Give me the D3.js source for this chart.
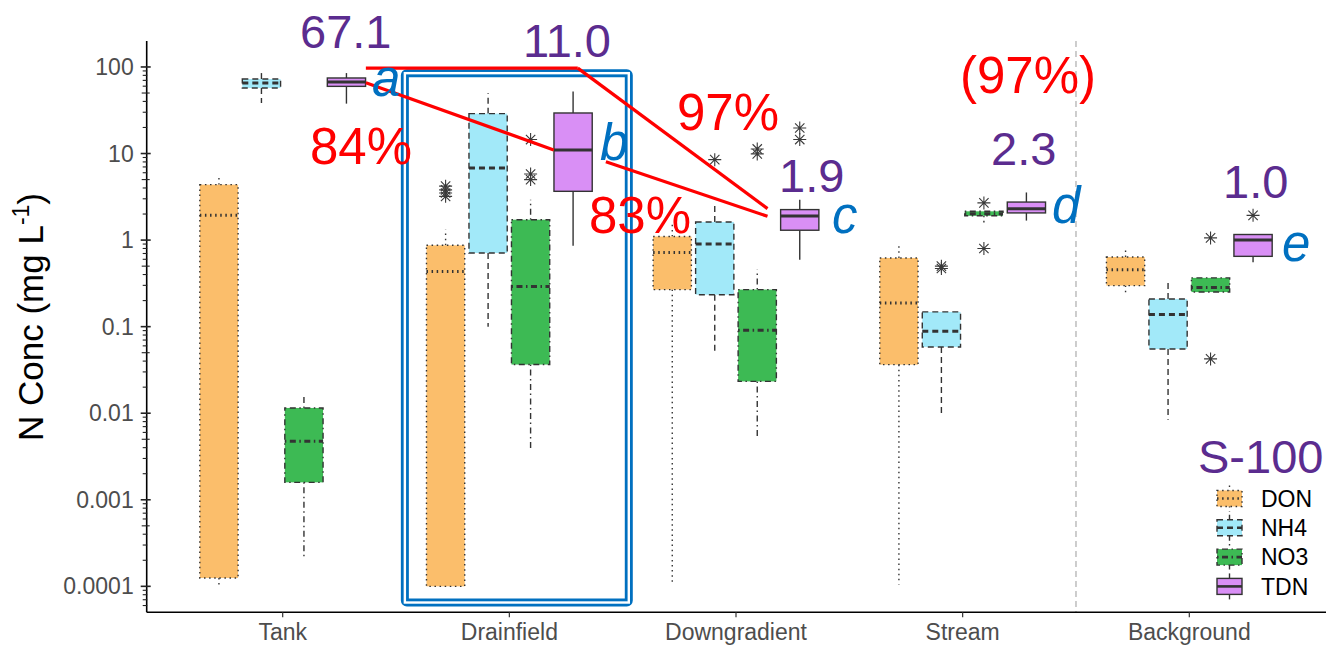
<!DOCTYPE html>
<html>
<head>
<meta charset="utf-8">
<script src="https://cdn.jsdelivr.net/npm/d3@7"></script>
<style>
  html, body { margin: 0; padding: 0; background: #fff; }
  svg { display: block; font-family: "Liberation Sans", Arial, sans-serif; }
</style>
</head>
<body>
<svg id="chart" width="1326" height="649"></svg>
<script>
// ---- data -------------------------------------------------------------
const categories = ["Tank", "Drainfield", "Downgradient", "Stream", "Background"];
const seriesNames = ["DON", "NH4", "NO3", "TDN"];

// box summaries per site: [lower whisker, Q1, median, Q3, upper whisker] (mg/L)
const donStats = [
  [1.02e-4, 1.25e-4, 1.93, 4.37, 5.4],
  [1.0e-4, 1.0e-4, 0.435, 0.87, 1.32],
  [1.1e-4, 0.268, 0.72, 1.1, 1.6],
  [1.05e-4, 0.0364, 0.188, 0.622, 0.927],
  [0.24, 0.298, 0.455, 0.638, 0.796]
];
const nh4Stats = [
  [38.4, 57.2, 65.3, 72.6, 85],
  [0.1, 0.71, 6.8, 28.9, 50],
  [0.0475, 0.234, 0.90, 1.62, 2.56],
  [0.0092, 0.0583, 0.0883, 0.148, 0.148],
  [0.0084, 0.0552, 0.138, 0.209, 0.349]
];
const no3Stats = [
  [0.000213, 0.00159, 0.00473, 0.0115, 0.0167],
  [0.0038, 0.0365, 0.29, 1.72, 2.93],
  [0.00508, 0.0233, 0.0906, 0.268, 0.455],
  [1.6, 1.91, 2.02, 2.15, 2.15],
  [0.251, 0.251, 0.284, 0.366, 0.366]
];
const tdnStats = [
  [37.7, 59.7, 67.1, 74.6, 85],
  [0.86, 3.66, 11.0, 29.4, 52],
  [0.594, 1.3, 1.9, 2.25, 2.93],
  [1.68, 2.06, 2.3, 2.75, 3.55],
  [0.553, 0.649, 1.0, 1.16, 1.16]
];

// outlying samples per site
const donOutliers = [[], [4.2, 3.8, 3.5, 3.2], [], [], []];
const nh4Outliers = [[], [], [8.5], [0.5, 0.47], []];
const no3Outliers = [[], [14.5, 5.8, 5.0], [11.3, 9.9], [2.69, 0.8], [1.06, 0.0424]];
const tdnOutliers = [[], [], [19.7, 14.5], [], [1.93]];

// median TDN labels and site letters
const tdnMedianLabels = ["67.1", "11.0", "1.9", "2.3", "1.0"];
const siteLetters = ["a", "b", "c", "d", "e"];

// y axis ticks
const yTicks = [0.0001, 0.001, 0.01, 0.1, 1, 10, 100];
const yTickLabels = ["0.0001", "0.001", "0.01", "0.1", "1", "10", "100"];

// ---- styling ----------------------------------------------------------
const fills = ["#FBBE6B", "#A2E9F9", "#3DBA54", "#D98FF5"];
const dashes = ["1.5,3.6", "6,4", "1.5,3.5,6,3.5", null];
const outline = "#333333";
const purple = "#5B2C8F";
const red = "#FF0000";
const blue = "#0070C0";

const allStats = [donStats, nh4Stats, no3Stats, tdnStats];
const allOutliers = [donOutliers, nh4Outliers, no3Outliers, tdnOutliers];

const svg = d3.select("#chart");

// panel geometry
const panelLeft = 146.7, panelRight = 1325.3, panelTop = 41, panelBottom = 612.3;

// categories sit at 1..5, with 0.6 units of padding either side
const x = d3.scaleLinear().domain([0.4, categories.length + 0.6]).range([panelLeft, panelRight]);
const y = d3.scaleLog().domain([Math.pow(10, -4.3), Math.pow(10, 2.3)]).range([panelBottom, panelTop]);

const unit = x(2) - x(1);
const dodge = 0.75 / seriesNames.length;       // slot width per series
const boxW = dodge * 0.9 * unit;               // box width in px
const seriesX = (ci, si) => x(ci + 1 + (si - 1.5) * dodge);

// ---- separator between in-system sites and background -----------------
svg.append("line")
  .attr("x1", x(4.5)).attr("x2", x(4.5))
  .attr("y1", panelTop).attr("y2", panelBottom)
  .attr("stroke", "#BDBDBD").attr("stroke-width", 1.5)
  .attr("stroke-dasharray", "6,4");

// ---- boxes -------------------------------------------------------------
const boxesG = svg.append("g");
seriesNames.forEach((name, si) => {
  const g = boxesG.append("g").attr("class", "series-" + name);
  allStats[si].forEach((s, ci) => {
    const cx = seriesX(ci, si);
    const [lo, q1, med, q3, hi] = s;
    const dash = dashes[si];
    // whiskers
    [[q3, hi], [q1, lo]].forEach(([a, b]) => {
      if (a === b) return;
      g.append("line")
        .attr("x1", cx).attr("x2", cx)
        .attr("y1", y(a)).attr("y2", y(b))
        .attr("stroke", outline).attr("stroke-width", 1.4)
        .attr("stroke-dasharray", dash);
    });
    // box
    g.append("rect")
      .attr("x", cx - boxW / 2).attr("width", boxW)
      .attr("y", y(q3)).attr("height", Math.max(1, y(q1) - y(q3)))
      .attr("fill", fills[si])
      .attr("stroke", outline).attr("stroke-width", 1.4)
      .attr("stroke-dasharray", dash);
    // median
    g.append("line")
      .attr("x1", cx - boxW / 2).attr("x2", cx + boxW / 2)
      .attr("y1", y(med)).attr("y2", y(med))
      .attr("stroke", outline).attr("stroke-width", 3)
      .attr("stroke-dasharray", dash);
    // outliers as asterisks
    allOutliers[si][ci].forEach(v => {
      const r = 6.5, d = r * 0.72;
      g.append("path")
        .attr("transform", `translate(${cx},${y(v)})`)
        .attr("d", `M${-r},0H${r}M0,${-r}V${r}M${-d},${-d}L${d},${d}M${-d},${d}L${d},${-d}`)
        .attr("stroke", "#3a3a3a").attr("stroke-width", 1.1).attr("fill", "none");
    });
  });
});

// ---- axes ----------------------------------------------------------------
const axisG = svg.append("g");
axisG.append("line")
  .attr("x1", panelLeft).attr("x2", panelLeft).attr("y1", panelTop).attr("y2", panelBottom)
  .attr("stroke", "#000").attr("stroke-width", 1.6);
axisG.append("line")
  .attr("x1", panelLeft).attr("x2", 1326).attr("y1", panelBottom).attr("y2", panelBottom)
  .attr("stroke", "#000").attr("stroke-width", 1.6);

// log ticks: decades, mid (5x) and minor (2..9x)
for (let e = -5; e <= 2; e++) {
  for (let m = 1; m <= 9; m++) {
    const v = m * Math.pow(10, e);
    const yy = y(v);
    if (yy < panelTop || yy > panelBottom) continue;
    const len = m === 1 ? [6, 4] : (m === 5 ? [5, 3] : [4, 0.5]);
    axisG.append("line")
      .attr("x1", panelLeft - len[0]).attr("x2", panelLeft + len[1])
      .attr("y1", yy).attr("y2", yy)
      .attr("stroke", "#222").attr("stroke-width", m === 1 ? 1.6 : 1.1);
  }
}
axisG.selectAll("text.ytick")
  .data(yTicks)
  .join("text")
  .attr("class", "ytick")
  .attr("x", panelLeft - 13).attr("y", d => y(d))
  .attr("dy", "0.35em")
  .attr("text-anchor", "end")
  .attr("font-size", 23)
  .attr("fill", "#4D4D4D")
  .text((d, i) => yTickLabels[i]);

categories.forEach((c, i) => {
  axisG.append("line")
    .attr("x1", x(i + 1)).attr("x2", x(i + 1))
    .attr("y1", panelBottom).attr("y2", panelBottom + 5)
    .attr("stroke", "#333").attr("stroke-width", 1.2);
  axisG.append("text")
    .attr("x", x(i + 1)).attr("y", 640)
    .attr("text-anchor", "middle")
    .attr("font-size", 23)
    .attr("fill", "#4D4D4D")
    .text(c);
});

// y title
const yTitle = svg.append("text")
  .attr("transform", "translate(43,317) rotate(-90)")
  .attr("text-anchor", "middle")
  .attr("font-size", 35)
  .attr("fill", "#000");
yTitle.append("tspan").text("N Conc (mg L");
yTitle.append("tspan").attr("font-size", 23).attr("dy", -14).text("-1");
yTitle.append("tspan").attr("dy", 14).text(")");

// ---- drainfield highlight (double-line frame) ---------------------------
const frame = { x0: 1.539, x1: 2.527, v0: 84.8, v1: 6.5e-5 };
const fx = x(frame.x0), fy = y(frame.v0);
const fw = x(frame.x1) - fx, fh = y(frame.v1) - fy;
svg.append("rect")
  .attr("x", fx).attr("y", fy).attr("width", fw).attr("height", fh)
  .attr("rx", 2)
  .attr("fill", "none").attr("stroke", blue).attr("stroke-width", 8);
svg.append("rect")
  .attr("x", fx).attr("y", fy).attr("width", fw).attr("height", fh)
  .attr("fill", "none").attr("stroke", "#fff").attr("stroke-width", 2.4);

// ---- connectors showing TDN change between sites ------------------------
const connectors = [
  [1.367, 97, 2.302, 97],
  [1.367, 65.9, 2.196, 11.0],
  [2.302, 97, 3.139, 2.31],
  [2.426, 8.05, 3.139, 1.88]
];
svg.append("g").selectAll("line")
  .data(connectors)
  .join("line")
  .attr("x1", d => x(d[0])).attr("y1", d => y(d[1]))
  .attr("x2", d => x(d[2])).attr("y2", d => y(d[3]))
  .attr("stroke", red).attr("stroke-width", 3.2);

// ---- text annotations ----------------------------------------------------
const medianPos = [[300, 48], [523, 57], [779, 192], [991, 165], [1223, 198]];
tdnMedianLabels.forEach((t, i) => {
  svg.append("text")
    .attr("x", medianPos[i][0]).attr("y", medianPos[i][1])
    .attr("font-size", 47).attr("fill", purple).text(t);
});

const letterPos = [[372, 96], [600, 160], [832, 233], [1052, 223], [1282, 261]];
siteLetters.forEach((t, i) => {
  svg.append("text")
    .attr("x", letterPos[i][0]).attr("y", letterPos[i][1])
    .attr("font-size", 51).attr("font-style", "italic")
    .attr("fill", blue).text(t);
});

const pctLabels = [["84%", 310, 163.5], ["97%", 677, 130], ["83%", 589, 233], ["(97%)", 960, 93]];
pctLabels.forEach(([t, px, py]) => {
  svg.append("text")
    .attr("x", px).attr("y", py)
    .attr("font-size", 51).attr("fill", red).text(t);
});

// ---- legend ----------------------------------------------------------------
const legend = svg.append("g");
legend.append("text")
  .attr("x", 1198).attr("y", 473)
  .attr("font-size", 47).attr("fill", purple).text("S-100");
seriesNames.forEach((name, si) => {
  const cy = 498.5 + si * 29.3;
  const kx = 1217, kw = 25, kh = 16;
  const cx = kx + kw / 2;
  legend.append("line")
    .attr("x1", cx).attr("x2", cx).attr("y1", cy - kh / 2 - 5).attr("y2", cy + kh / 2 + 5)
    .attr("stroke", outline).attr("stroke-width", 1.4).attr("stroke-dasharray", dashes[si]);
  legend.append("rect")
    .attr("x", kx).attr("y", cy - kh / 2).attr("width", kw).attr("height", kh)
    .attr("fill", fills[si]).attr("stroke", outline).attr("stroke-width", 1.4)
    .attr("stroke-dasharray", dashes[si]);
  legend.append("line")
    .attr("x1", kx).attr("x2", kx + kw).attr("y1", cy).attr("y2", cy)
    .attr("stroke", outline).attr("stroke-width", 2.6).attr("stroke-dasharray", dashes[si]);
  legend.append("text")
    .attr("x", 1261).attr("y", cy).attr("dy", "0.36em")
    .attr("font-size", 23).attr("fill", "#000").text(name);
});
</script>
</body>
</html>
